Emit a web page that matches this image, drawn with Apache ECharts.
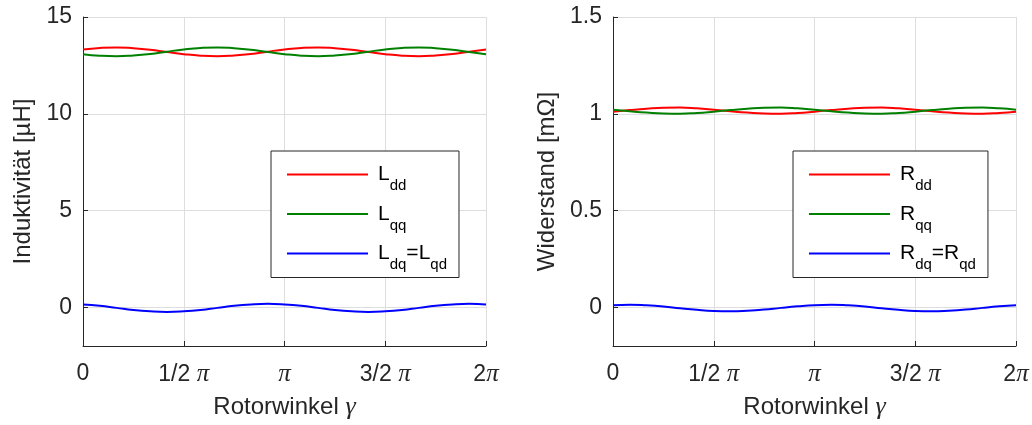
<!DOCTYPE html>
<html lang="de">
  <head>
    <meta charset="UTF-8" />
    <title>Induktivität und Widerstand</title>
    <style>
      html, body { margin: 0; padding: 0; background: #fff; }
      #main { width: 1032px; height: 425px; }
    </style>
  </head>
  <body>
    <div id="main"></div>
    <script src="https://cdn.jsdelivr.net/npm/echarts@6/dist/echarts.min.js"></script>
    <script>
      const myChart = echarts.init(document.getElementById('main'))

      // Rotorwinkel in Grad (0 .. 2π)
      var angles = [0, 15, 30, 45, 60, 75, 90, 105, 120, 135, 150, 165, 180,
        195, 210, 225, 240, 255, 270, 285, 300, 315, 330, 345, 360]
      var xTickLabels = ['0', '1/2 π', 'π', '3/2 π', '2π']

      // Induktivität [µH]
      var ldd = [13.32, 13.40, 13.43, 13.39, 13.31, 13.19, 13.08, 13.00, 12.97, 13.01, 13.09, 13.21, 13.32,
        13.40, 13.43, 13.39, 13.31, 13.19, 13.08, 13.00, 12.97, 13.01, 13.09, 13.21, 13.32]
      var lqq = [13.08, 13.00, 12.97, 13.01, 13.09, 13.21, 13.32, 13.40, 13.43, 13.39, 13.31, 13.19, 13.08,
        13.00, 12.97, 13.01, 13.09, 13.21, 13.32, 13.40, 13.43, 13.39, 13.31, 13.19, 13.08]
      var ldq = [0.15, 0.08, -0.03, -0.14, -0.21, -0.24, -0.21, -0.14, -0.03, 0.08, 0.15, 0.18, 0.15,
        0.08, -0.03, -0.14, -0.21, -0.24, -0.21, -0.14, -0.03, 0.08, 0.15, 0.18, 0.15]

      // Widerstand [mΩ]
      var rdd = [1.011, 1.019, 1.026, 1.031, 1.032, 1.028, 1.021, 1.013, 1.006, 1.001, 1.000, 1.004, 1.011,
        1.019, 1.026, 1.031, 1.032, 1.028, 1.021, 1.013, 1.006, 1.001, 1.000, 1.004, 1.011]
      var rqq = [1.021, 1.013, 1.006, 1.001, 1.000, 1.004, 1.011, 1.019, 1.026, 1.031, 1.032, 1.028, 1.021,
        1.013, 1.006, 1.001, 1.000, 1.004, 1.011, 1.019, 1.026, 1.031, 1.032, 1.028, 1.021]
      var rdq = [0.011, 0.013, 0.010, 0.004, -0.005, -0.013, -0.019, -0.021, -0.018, -0.012, -0.003, 0.005, 0.011,
        0.013, 0.010, 0.004, -0.005, -0.013, -0.019, -0.021, -0.018, -0.012, -0.003, 0.005, 0.011]

      var font = 'Liberation Sans, Arial, sans-serif'
      var dark = '#262626'
      var gridGray = '#dedede'

      function pairs(ys) {
        return angles.map(function (a, i) { return [a, ys[i]] })
      }

      // Legendentexte mit Indizes
      var legendText = {
        Ldd: '{m|L}{s|dd}',
        Lqq: '{m|L}{s|qq}',
        Ldq: '{m|L}{s|dq}{m|=L}{s|qd}',
        Rdd: '{m|R}{s|dd}',
        Rqq: '{m|R}{s|qq}',
        Rdq: '{m|R}{s|dq}{m|=R}{s|qd}'
      }
      var legendRich = {
        m: { fontFamily: font, fontSize: 21, color: '#000', lineHeight: 38, verticalAlign: 'middle' },
        s: { fontFamily: font, fontSize: 15, color: '#000', verticalAlign: 'bottom' }
      }

      function xAxisFor(idx) {
        return {
          type: 'value',
          gridIndex: idx,
          min: 0,
          max: 360,
          interval: 90,
          name: 'Rotorwinkel {g|γ}',
          nameLocation: 'middle',
          nameGap: 48,
          nameTextStyle: {
            fontFamily: font, fontSize: 24, color: dark,
            rich: { g: { fontFamily: 'Liberation Serif, serif', fontStyle: 'italic', fontSize: 26, color: dark } }
          },
          axisLine: { show: true, onZero: false, lineStyle: { color: dark, width: 1 } },
          axisTick: { show: true, inside: true, length: 5, lineStyle: { color: dark } },
          splitLine: { show: true, lineStyle: { color: gridGray, width: 1 } },
          axisLabel: {
            margin: 16,
            fontFamily: font,
            fontSize: 23,
            color: dark,
            formatter: function (v) {
              return xTickLabels[Math.round(v / 90)].replace('π', '{p|π}')
            },
            rich: { p: { fontFamily: 'Liberation Serif, serif', fontStyle: 'italic', fontSize: 25, color: dark } }
          }
        }
      }

      function yAxisFor(idx, name, min, max, gap) {
        return {
          type: 'value',
          gridIndex: idx,
          min: min,
          max: max,
          splitNumber: 3,
          name: name,
          nameLocation: 'middle',
          nameGap: gap,
          nameTextStyle: { fontFamily: font, fontSize: 24, color: dark },
          axisLine: { show: true, onZero: false, lineStyle: { color: dark, width: 1 } },
          axisTick: { show: true, inside: true, length: 5, lineStyle: { color: dark } },
          splitLine: { show: true, lineStyle: { color: gridGray, width: 1 } },
          axisLabel: {
            margin: 11,
            padding: [5, 0, 0, 0],
            showMinLabel: false,
            fontFamily: font,
            fontSize: 23,
            color: dark
          }
        }
      }

      function lineSeries(name, ys, color, idx) {
        return {
          name: name,
          type: 'line',
          xAxisIndex: idx,
          yAxisIndex: idx,
          data: pairs(ys),
          smooth: true,
          showSymbol: false,
          symbol: 'none',
          lineStyle: { color: color, width: 2 },
          itemStyle: { color: color }
        }
      }

      function legendFor(left, names) {
        return {
          left: left,
          top: 151,
          orient: 'vertical',
          data: names,
          icon: 'rect',
          itemWidth: 81,
          itemHeight: 2,
          itemGap: 10,
          padding: [13, 12, 5, 16],
          borderColor: dark,
          borderWidth: 1,
          backgroundColor: '#fff',
          selectedMode: false,
          formatter: function (n) { return legendText[n] },
          textStyle: { padding: [0, 0, 0, 5], rich: legendRich }
        }
      }

      option = {
        backgroundColor: '#fff',
        animation: false,
        grid: [
          { left: 83, right: 546, top: 17, bottom: 76 },
          { left: 613, right: 16, top: 17, bottom: 76 }
        ],
        legend: [
          legendFor(271, ['Ldd', 'Lqq', 'Ldq']),
          legendFor(793, ['Rdd', 'Rqq', 'Rdq'])
        ],
        xAxis: [xAxisFor(0), xAxisFor(1)],
        yAxis: [
          yAxisFor(0, 'Induktivität [µH]', -2, 15, 48),
          yAxisFor(1, 'Widerstand [mΩ]', -0.2, 1.5, 54)
        ],
        series: [
          lineSeries('Ldd', ldd, '#ff0000', 0),
          lineSeries('Lqq', lqq, '#008000', 0),
          lineSeries('Ldq', ldq, '#0000ff', 0),
          lineSeries('Rdd', rdd, '#ff0000', 1),
          lineSeries('Rqq', rqq, '#008000', 1),
          lineSeries('Rdq', rdq, '#0000ff', 1)
        ]
      }

      myChart.setOption(option)
    </script>
  </body>
</html>
